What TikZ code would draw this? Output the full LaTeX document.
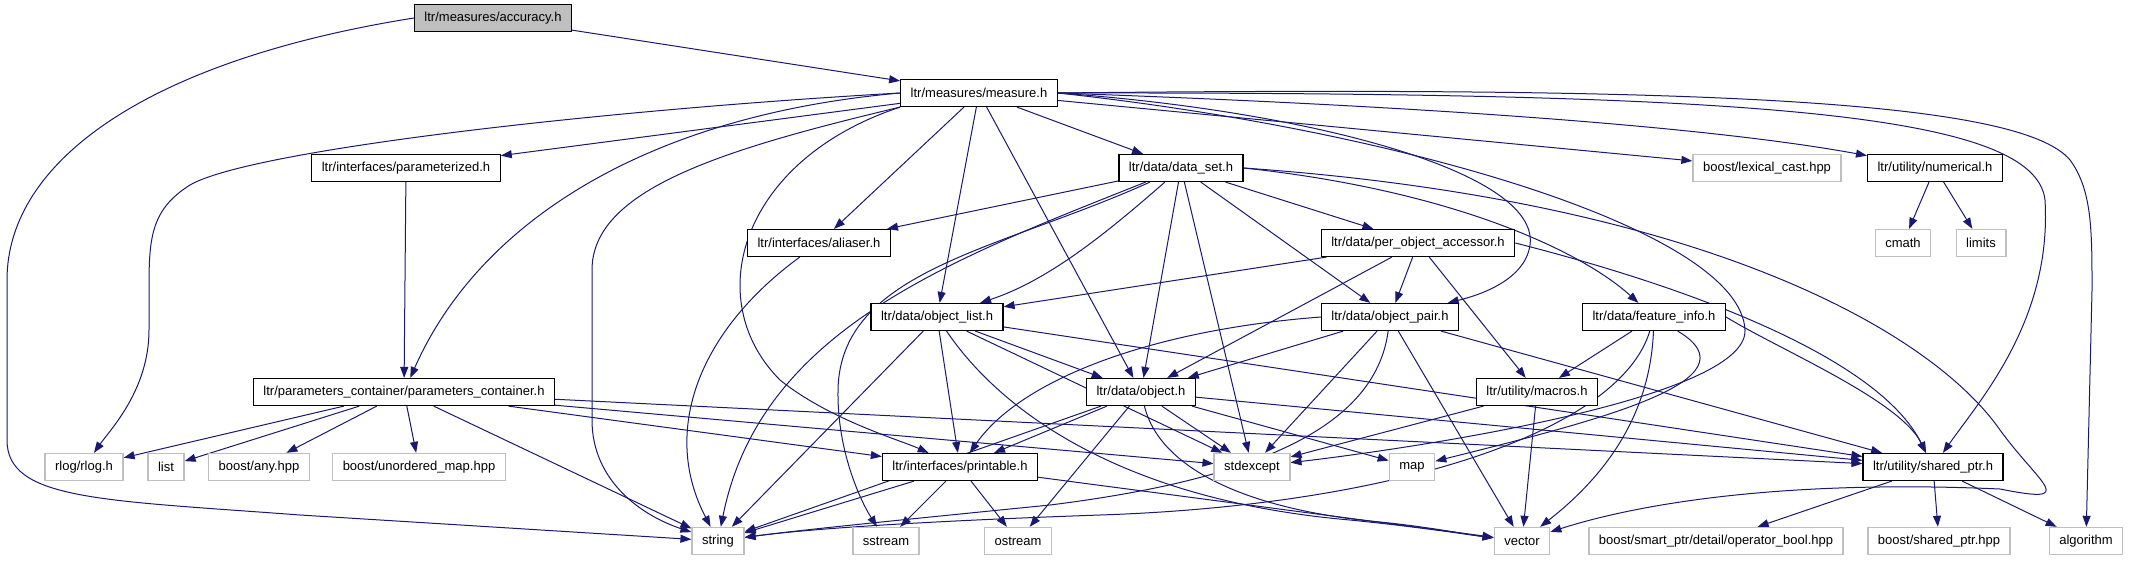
\documentclass[tikz,border=0pt]{standalone}
\usepackage{fontspec}
\setmainfont{Liberation Sans}
\usepackage{xcolor}
\definecolor{edgeblue}{RGB}{25,25,112}
\definecolor{sysgray}{RGB}{191,191,191}
\usetikzlibrary{arrows.meta, backgrounds}
\newcommand{\hdrfont}{\fontsize{13}{15}\selectfont}
\tikzset{
  hdr/.style={
    rectangle, draw=black, fill=white, line width=1.2pt,
    minimum height=27pt, inner xsep=10pt, inner ysep=0pt, font=\hdrfont},
  syshdr/.style={hdr, draw=sysgray, line width=1.4pt},
  roothdr/.style={hdr, fill=sysgray},
  inc/.style={-{Triangle[length=11pt,width=8pt]}, edgeblue, line width=1pt},
}

\begin{document}
\begin{tikzpicture}[x=1pt, y=-1pt]
  \useasboundingbox (0,0) rectangle (2140,560);
  % row 1-2
  \node[roothdr] (acc) at (493,18) {ltr/measures/accuracy.h};
  \node[hdr] (measure) at (979,93) {ltr/measures/measure.h};
  % row 3
  \node[hdr] (param) at (406,168) {ltr/interfaces/parameterized.h};
  \node[hdr] (dataset) at (1181,168) {ltr/data/data\_set.h};
  \node[syshdr] (lexcast) at (1767,168) {boost/lexical\_cast.hpp};
  \node[hdr] (numerical) at (1935,168) {ltr/utility/numerical.h};
  % row 4
  \node[hdr] (aliaser) at (819,243) {ltr/interfaces/aliaser.h};
  \node[hdr] (poa) at (1418,243) {ltr/data/per\_object\_accessor.h};
  \node[syshdr] (cmath) at (1903,243) {cmath};
  \node[syshdr] (limits) at (1981,243) {limits};
  % row 5
  \node[hdr] (objlist) at (937,317) {ltr/data/object\_list.h};
  \node[hdr] (objpair) at (1390,317) {ltr/data/object\_pair.h};
  \node[hdr] (featinfo) at (1654,317) {ltr/data/feature\_info.h};
  % row 6
  \node[hdr] (pc) at (404,392) {ltr/parameters\_container/parameters\_container.h};
  \node[hdr] (object) at (1141,392) {ltr/data/object.h};
  \node[hdr] (macros) at (1537,392) {ltr/utility/macros.h};
  % row 7
  \node[syshdr] (rlog) at (84,467) {rlog/rlog.h};
  \node[syshdr] (list) at (166,467) {list};
  \node[syshdr] (any) at (259,467) {boost/any.hpp};
  \node[syshdr] (umap) at (419,467) {boost/unordered\_map.hpp};
  \node[hdr] (printable) at (960,467) {ltr/interfaces/printable.h};
  \node[syshdr] (stdexcept) at (1252,467) {stdexcept};
  \node[syshdr] (map) at (1412,467) {map};
  \node[hdr] (sharedptr) at (1933,467) {ltr/utility/shared\_ptr.h};
  % row 8
  \node[syshdr] (string) at (718,541) {string};
  \node[syshdr] (sstream) at (886,541) {sstream};
  \node[syshdr] (ostream) at (1018,541) {ostream};
  \node[syshdr] (vector) at (1522,541) {vector};
  \node[syshdr] (opbool) at (1716,541) {boost/smart\_ptr/detail/operator\_bool.hpp};
  \node[syshdr] (bsp) at (1939,541) {boost/shared\_ptr.hpp};
  \node[syshdr] (algorithm) at (2086,541) {algorithm};

  \begin{scope}[on background layer]
  % accuracy.h
  \draw[inc] (acc) -- (measure);
  \draw[inc] (acc.west) .. controls (150,60) and (7,160) .. (7,280) -- (7,440)
    .. controls (7,500) and (100,500) .. (300,515) -- (string);
  % measure.h
  \draw[inc] (measure) -- (param);
  \draw[inc] (measure) -- (dataset);
  \draw[inc] (measure) -- (lexcast);
  \draw[inc] (measure.east) .. controls (1400,105) and (1700,125) .. (numerical);
  \draw[inc] (measure) -- (aliaser);
  \draw[inc] (measure) -- (objlist);
  \draw[inc] (measure) -- (object);
  \draw[inc] (measure.west) .. controls (600,110) and (250,150) .. (190,185)
    .. controls (150,210) and (149,240) .. (149,290) -- (149,330)
    .. controls (149,390) and (110,430) .. (rlog);
  \draw[inc] (measure.west) .. controls (650,115) and (480,220) .. (pc);
  \draw[inc] (measure.south west) .. controls (720,150) and (592,190) .. (592,270) -- (592,420)
    .. controls (592,480) and (640,515) .. (string);
  \draw[inc] (measure.south west) .. controls (740,160) and (700,300) .. (780,380)
    .. controls (830,420) and (900,440) .. (printable);
  \draw[inc] (measure.east) .. controls (1300,110) and (1540,170) .. (1530,245)
    .. controls (1525,280) and (1480,295) .. (objpair);
  \draw[inc] (measure.east) .. controls (1400,130) and (1740,230) .. (1745,330)
    .. controls (1748,400) and (1400,450) .. (stdexcept);
  \draw[inc] (measure.east) .. controls (1750,92) and (2035,112) .. (2045,200)
    .. controls (2052,320) and (1980,400) .. (sharedptr);
  \draw[inc] (measure.east) .. controls (1700,86) and (2020,100) .. (2070,160)
    .. controls (2092,190) and (2092,230) .. (2092,290) -- (algorithm);
  % data_set.h
  \draw[inc] (dataset) -- (aliaser);
  \draw[inc] (dataset) -- (poa);
  \draw[inc] (dataset) .. controls (1110,230) and (1050,280) .. (objlist);
  \draw[inc] (dataset) -- (object);
  \draw[inc] (dataset) -- (objpair);
  \draw[inc] (dataset.east) .. controls (1450,190) and (1580,250) .. (featinfo);
  \draw[inc] (dataset) .. controls (950,260) and (760,330) .. (string);
  \draw[inc] (dataset) .. controls (1000,250) and (840,270) .. (838,390)
    .. controls (837,450) and (860,500) .. (sstream);
  \draw[inc] (dataset) -- (stdexcept);
  \draw[inc] (dataset.east) .. controls (1700,200) and (1930,330) .. (2000,430)
    .. controls (2040,485) and (2080,505) .. (2000,489)
    .. controls (1800,480) and (1650,500) .. (vector);
  % per_object_accessor.h
  \draw[inc] (poa) -- (objlist);
  \draw[inc] (poa) -- (objpair);
  \draw[inc] (poa) -- (object);
  \draw[inc] (poa) -- (macros);
  \draw[inc] (poa.east) .. controls (1700,290) and (1880,360) .. (sharedptr);
  % numerical.h
  \draw[inc] (numerical) -- (cmath);
  \draw[inc] (numerical) -- (limits);
  % interfaces
  \draw[inc] (param) -- (pc);
  \draw[inc] (aliaser) .. controls (700,330) and (660,430) .. (string);
  % object_list.h
  \draw[inc] (objlist) -- (object);
  \draw[inc] (objlist) -- (printable);
  \draw[inc] (objlist) -- (string);
  \draw[inc] (objlist) -- (stdexcept);
  \draw[inc] (objlist) -- (sharedptr);
  \draw[inc] (objlist) .. controls (1000,410) and (1120,500) .. (1350,520)
    .. controls (1420,527) and (1470,535) .. (vector);
  % object_pair.h
  \draw[inc] (objpair) -- (object);
  \draw[inc] (objpair.west) .. controls (1150,330) and (1020,380) .. (printable);
  \draw[inc] (objpair) -- (stdexcept);
  \draw[inc] (objpair) -- (sharedptr);
  \draw[inc] (objpair) -- (vector);
  \draw[inc] (objpair) .. controls (1375,430) and (1250,480) .. (1050,505)
    .. controls (900,520) and (800,530) .. (string);
  % feature_info.h
  \draw[inc] (featinfo) -- (macros);
  \draw[inc] (featinfo.east) .. controls (1780,350) and (1900,400) .. (sharedptr);
  \draw[inc] (featinfo) .. controls (1760,380) and (1600,420) .. (map);
  \draw[inc] (featinfo) .. controls (1650,420) and (1600,480) .. (vector);
  \draw[inc] (featinfo) .. controls (1620,430) and (1400,505) .. (1100,515)
    .. controls (900,522) and (800,530) .. (string);
  % parameters_container.h
  \draw[inc] (pc) -- (rlog);
  \draw[inc] (pc) -- (list);
  \draw[inc] (pc) -- (any);
  \draw[inc] (pc) -- (umap);
  \draw[inc] (pc) -- (string);
  \draw[inc] (pc) -- (printable);
  \draw[inc] (pc) -- (stdexcept);
  \draw[inc] (pc) -- (sharedptr);
  % object.h
  \draw[inc] (object) -- (printable);
  \draw[inc] (object) -- (string);
  \draw[inc] (object) -- (stdexcept);
  \draw[inc] (object) -- (map);
  \draw[inc] (object) -- (ostream);
  \draw[inc] (object) -- (sharedptr);
  \draw[inc] (object) .. controls (1160,470) and (1250,510) .. (1380,522)
    .. controls (1430,527) and (1470,535) .. (vector);
  % macros.h
  \draw[inc] (macros) -- (stdexcept);
  \draw[inc] (macros) -- (vector);
  % printable.h
  \draw[inc] (printable) -- (string);
  \draw[inc] (printable) -- (sstream);
  \draw[inc] (printable) -- (ostream);
  \draw[inc] (printable) -- (vector);
  % shared_ptr.h
  \draw[inc] (sharedptr) -- (opbool);
  \draw[inc] (sharedptr) -- (bsp);
  \draw[inc] (sharedptr) -- (algorithm);
  \end{scope}
\end{tikzpicture}
\end{document}
